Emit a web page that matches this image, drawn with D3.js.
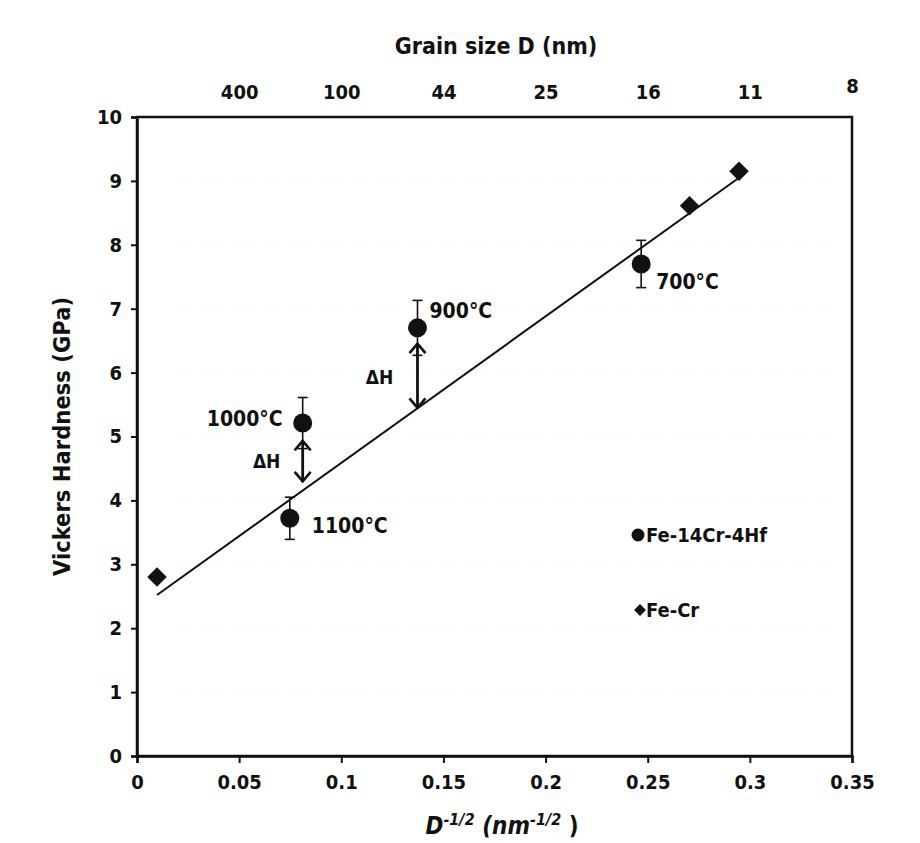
<!DOCTYPE html>
<html><head><meta charset="utf-8">
<script src="https://cdnjs.cloudflare.com/ajax/libs/d3/7.8.5/d3.min.js"></script>
<style>
body{margin:0;background:#fff;}
svg text{font-family:"Liberation Sans Narrow","DejaVu Sans Condensed","Liberation Sans",sans-serif;font-weight:bold;fill:#111;}
</style></head>
<body><svg id="c" width="920" height="843"></svg>
<script>
// ---- data ----
const xTicks = [0, 0.05, 0.1, 0.15, 0.2, 0.25, 0.3, 0.35];
const xTickLabels = ["0", "0.05", "0.1", "0.15", "0.2", "0.25", "0.3", "0.35"];
const yTicks = [0,1,2,3,4,5,6,7,8,9,10];
const topTicks = [0.05, 0.1, 0.15, 0.2, 0.25, 0.3, 0.35];
const topLabels = ["400", "100", "44", "25", "16", "11", "8"];

const feCrX = [0.0098, 0.2705, 0.2947];
const feCrY = [2.80, 8.61, 9.15];

const hfX = [0.0748, 0.0811, 0.1373, 0.2468];
const hfY = [3.72, 5.21, 6.70, 7.70];
const hfErr = [0.33, 0.40, 0.43, 0.37];
const hfLabels = ["1100°C", "1000°C", "900°C", "700°C"];

const fitX = [0.0098, 0.2947];
const fitY = [2.52, 9.05];

const dHx = [0.0811, 0.1373];
const dHtop = [4.94, 6.46];
const dHbot = [4.29, 5.44];

const legendNames = ["Fe-14Cr-4Hf", "Fe-Cr"];

// ---- chart ----
const svg = d3.select("#c");
const x = d3.scaleLinear().domain([0, 0.35]).range([137, 852]);
const y = d3.scaleLinear().domain([0, 10]).range([756, 117]);

// faint grid
svg.append("g").selectAll("line").data(yTicks.slice(1, 10)).join("line")
  .attr("x1", x(0.02)).attr("x2", x(0.34))
  .attr("y1", d => y(d)).attr("y2", d => y(d))
  .attr("stroke", "#f0f0f0").attr("stroke-width", 1).attr("stroke-dasharray", "2,9");

// frame
svg.append("rect").attr("x", x(0)).attr("y", y(10))
  .attr("width", x(0.35) - x(0)).attr("height", y(0) - y(10))
  .attr("fill", "none").attr("stroke", "#111").attr("stroke-width", 2.5);

// bottom axis
const xa = svg.append("g").attr("transform", `translate(0,${y(0)})`)
  .call(d3.axisBottom(x).tickValues(xTicks).tickFormat((d, i) => xTickLabels[i]).tickSize(7).tickPadding(12));
xa.select(".domain").attr("stroke", "#111").attr("stroke-width", 2.5);
xa.selectAll(".tick line").attr("stroke", "#111").attr("stroke-width", 2);
xa.selectAll("text").attr("font-size", 20);

// left axis
const ya = svg.append("g").attr("transform", `translate(${x(0)},0)`)
  .call(d3.axisLeft(y).tickValues(yTicks).tickFormat(d3.format("d")).tickSize(6).tickPadding(9));
ya.select(".domain").attr("stroke", "#111").attr("stroke-width", 2.5);
ya.selectAll(".tick line").attr("stroke", "#111").attr("stroke-width", 2);
ya.selectAll("text").attr("font-size", 20);

// top axis (grain size)
const ta = svg.append("g").attr("transform", `translate(0,${y(10)})`)
  .call(d3.axisTop(x).tickValues(topTicks).tickFormat((d, i) => topLabels[i]).tickSize(0).tickPadding(18));
ta.select(".domain").remove();
ta.selectAll("text").attr("font-size", 20)
  .attr("dy", (d, i) => i === topTicks.length - 1 ? "-6" : "0");

// axis titles
svg.append("text").attr("x", 496).attr("y", 54).attr("text-anchor", "middle")
  .attr("font-size", 23).text("Grain size D (nm)");
svg.append("text").attr("transform", `translate(70,${y(5)}) rotate(-90)`)
  .attr("text-anchor", "middle").attr("font-size", 23.5).text("Vickers Hardness (GPa)");
const xt = svg.append("text").attr("x", 502).attr("y", 834).attr("text-anchor", "middle")
  .attr("font-size", 24).attr("font-style", "italic");
xt.append("tspan").text("D");
xt.append("tspan").attr("dy", -9).attr("font-size", 16).text("-1/2");
xt.append("tspan").attr("dy", 9).text("  (");
xt.append("tspan").text("nm");
xt.append("tspan").attr("dy", -9).attr("font-size", 16).text("-1/2");
xt.append("tspan").attr("dy", 9).style("font-style", "normal").text(" )");

// fit line
svg.append("line")
  .attr("x1", x(fitX[0])).attr("y1", y(fitY[0]))
  .attr("x2", x(fitX[1])).attr("y2", y(fitY[1]))
  .attr("stroke", "#111").attr("stroke-width", 2);

// arrow marker
const defs = svg.append("defs");
defs.append("marker").attr("id", "ah").attr("viewBox", "0 0 12 20")
  .attr("refX", 11).attr("refY", 10)
  .attr("markerUnits", "userSpaceOnUse").attr("orient", "auto-start-reverse")
  .attr("markerWidth", 12).attr("markerHeight", 20)
  .append("path").attr("d", "M1,2 L10.5,10 L1,18").attr("fill", "none")
  .attr("stroke", "#111").attr("stroke-width", 2.6);

svg.append("g").selectAll("line").data(dHx).join("line")
  .attr("x1", d => x(d)).attr("x2", d => x(d))
  .attr("y1", (d, i) => y(dHtop[i])).attr("y2", (d, i) => y(dHbot[i]))
  .attr("stroke", "#111").attr("stroke-width", 2.8)
  .attr("marker-start", "url(#ah)").attr("marker-end", "url(#ah)");

svg.append("text").attr("x", x(dHx[0]) - 36).attr("y", y((dHtop[0] + dHbot[0]) / 2) + 7)
  .attr("text-anchor", "middle").attr("font-size", 19).text("ΔH");
svg.append("text").attr("x", x(dHx[1]) - 38).attr("y", y((dHtop[1] + dHbot[1]) / 2) + 8)
  .attr("text-anchor", "middle").attr("font-size", 19).text("ΔH");

// error bars
const eb = svg.append("g").attr("stroke", "#111").attr("stroke-width", 1.6);
hfX.forEach((d, i) => {
  eb.append("line").attr("x1", x(d)).attr("x2", x(d))
    .attr("y1", y(hfY[i] - hfErr[i])).attr("y2", y(hfY[i] + hfErr[i]));
  [hfY[i] - hfErr[i], hfY[i] + hfErr[i]].forEach(v => {
    eb.append("line").attr("x1", x(d) - 5).attr("x2", x(d) + 5)
      .attr("y1", y(v)).attr("y2", y(v));
  });
});

// circles
svg.append("g").selectAll("circle").data(hfX).join("circle")
  .attr("cx", d => x(d)).attr("cy", (d, i) => y(hfY[i])).attr("r", 9.5)
  .attr("fill", "#111");

// diamonds
const dsym = d3.symbol().type(d3.symbolSquare).size(190);
svg.append("g").selectAll("path").data(feCrX).join("path")
  .attr("d", dsym)
  .attr("transform", (d, i) => `translate(${x(d)},${y(feCrY[i])}) rotate(45)`)
  .attr("fill", "#111");

// point labels
const lblOff = [[22, 8, "start"], [-20, -4, "end"], [12, -17, "start"], [15, 18, "start"]];
svg.append("g").selectAll("text").data(hfLabels).join("text")
  .attr("x", (d, i) => x(hfX[i]) + lblOff[i][0])
  .attr("y", (d, i) => y(hfY[i]) + lblOff[i][1] + 7)
  .attr("text-anchor", (d, i) => lblOff[i][2])
  .attr("font-size", 21).text(d => d);

// legend
const lg = svg.append("g");
lg.append("circle").attr("cx", 638).attr("cy", 535).attr("r", 6.5).attr("fill", "#111");
lg.append("path").attr("d", d3.symbol().type(d3.symbolSquare).size(70))
  .attr("transform", "translate(640,610) rotate(45)").attr("fill", "#111");
lg.selectAll("text").data(legendNames).join("text")
  .attr("x", 646).attr("y", (d, i) => i === 0 ? 542 : 617)
  .attr("font-size", 20).text(d => d);
</script></body></html>
